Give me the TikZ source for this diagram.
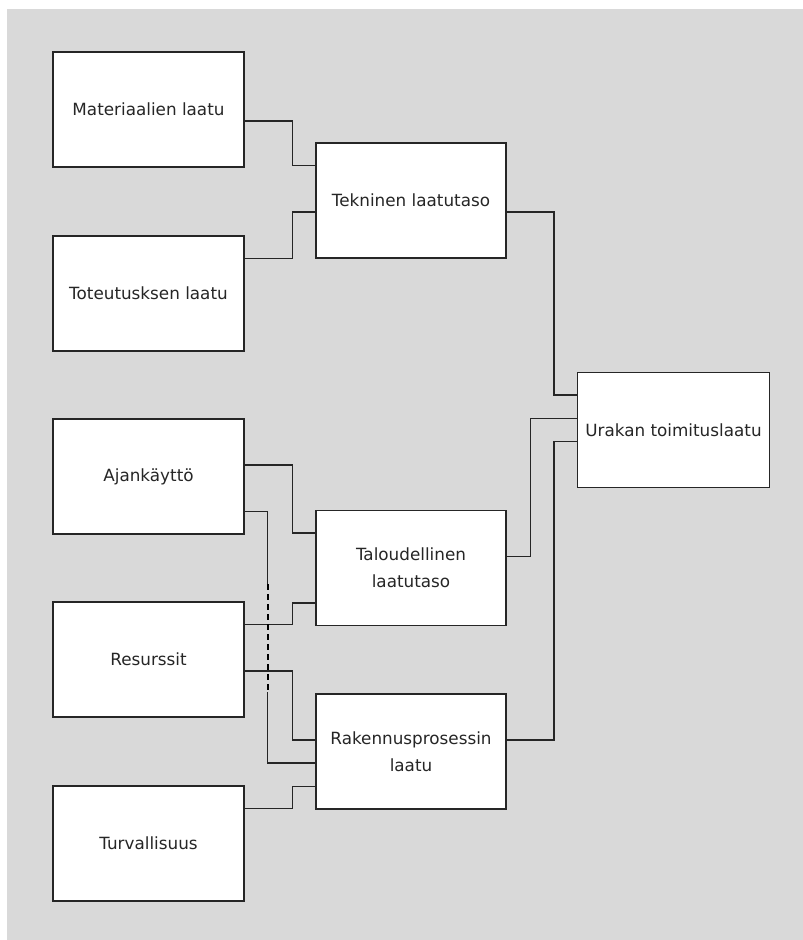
\documentclass[tikz,border=0pt]{standalone}
\usepackage{fontspec}
\setmainfont{DejaVu Sans}
\usetikzlibrary{calc}

\begin{document}
\begin{tikzpicture}[
        x=1pt, y=-1pt,
        font=\fontsize{16.8}{27}\selectfont,
        box/.style={draw=black!85, fill=white, line width=1.3pt,
            minimum width=191pt, minimum height=115pt, inner sep=0pt,
            align=center, text=black!85},
        link/.style={draw=black!85, line width=1.3pt},
        jump/.style={draw=black, line width=2pt, dash pattern=on 6pt off 4pt}
    ]

        % === DEFINITIONS ===
        \def\xa{292.7}  % elbow between left column and middle column
        \def\xj{267.5}  % elbow of the long link Ajankaytto -> Rakennus
        \def\xb{530.7}  % elbows towards the result box
        \def\xc{554}

        % === BACKGROUND ===
        \useasboundingbox (0,0) rectangle (803,940);
        \fill[gray!30] (7,9) rectangle (803,940);

        % === 1. LEFT COLUMN ===
        \node[box] (mat) at (148.5,109.5) {Materiaalien laatu};
        \node[box] (tot) at (148.5,293.5) {Toteutusksen laatu};
        \node[box] (aja) at (148.5,476.5) {Ajankäyttö};
        \node[box] (res) at (148.5,659.5) {Resurssit};
        \node[box] (tur) at (148.5,843.5) {Turvallisuus};

        % === 2. MIDDLE COLUMN ===
        \node[box, minimum width=190pt] (tek) at (411,200.5) {Tekninen laatutaso};
        \node[box, minimum width=190pt] (tal) at (411,568) {Taloudellinen\\ laatutaso};
        \node[box, minimum width=190pt] (rak) at (411,751.5) {Rakennusprosessin\\ laatu};

        % === 3. RESULT ===
        \node[box, minimum width=192pt] (ura) at (673.5,430) {Urakan toimituslaatu};

        % Connection points: fifths of each side
        \foreach \b in {mat,tot,aja,res,tur,tek,tal,rak,ura}{
            \foreach \k in {1,2,3,4}{
                \coordinate (\b-e\k) at ($(\b.north east)!\k/5!(\b.south east)$);
                \coordinate (\b-w\k) at ($(\b.north west)!\k/5!(\b.south west)$);
            }
        }

        % === 4. LINKS ===
        \draw[link] (mat-e3) -| (\xa,0 |- tek-w1) -- (tek-w1);
        \draw[link] (tot-e1) -| (\xa,0 |- tek-w3) -- (tek-w3);
        \draw[link] (aja-e2) -| (\xa,0 |- tal-w1) -- (tal-w1);
        \draw[link] (res-e1) -| (\xa,0 |- tal-w4) -- (tal-w4);
        \draw[link] (res-e3) -| (\xa,0 |- rak-w2) -- (rak-w2);
        \draw[link] (tur-e1) -| (\xa,0 |- rak-w4) -- (rak-w4);

        % long link passing over the Resurssit links
        \coordinate (jumpA) at (\xj,584);
        \coordinate (jumpB) at (\xj,692);
        \draw[link] (aja-e4) -| (jumpA);
        \draw[jump] (jumpA) -- (jumpB);
        \draw[link] (jumpB) |- (rak-w3);

        \draw[link] (tek-e3) -| (\xc,0 |- ura-w1) -- (ura-w1);
        \draw[link] (tal-e2) -| (\xb,0 |- ura-w2) -- (ura-w2);
        \draw[link] (rak-e2) -| (\xc,0 |- ura-w3) -- (ura-w3);

    \end{tikzpicture}
\end{document}
